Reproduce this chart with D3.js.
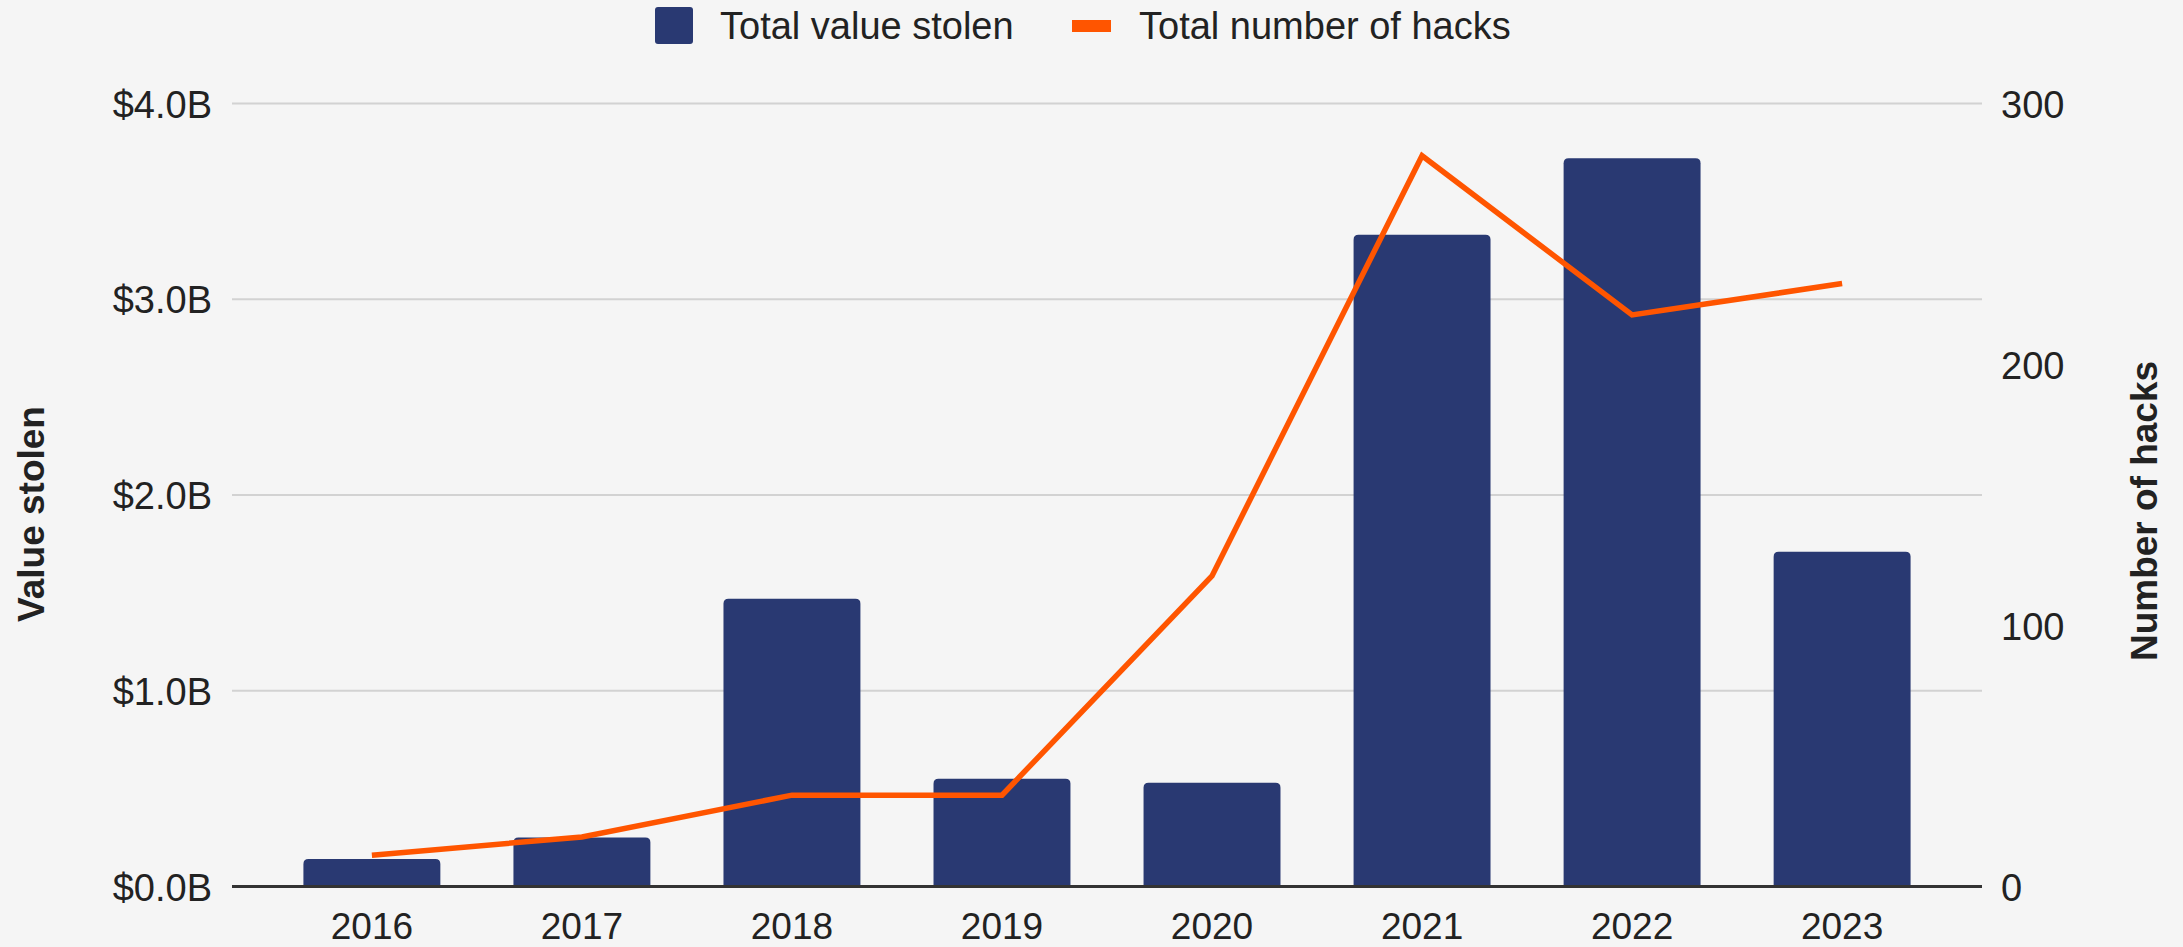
<!DOCTYPE html>
<html>
<head>
<meta charset="utf-8">
<script src="https://cdn.jsdelivr.net/npm/d3@7"></script>
<style>
  html, body { margin: 0; padding: 0; background: #f5f5f5; }
  svg { display: block; }
  text { font-family: "Liberation Sans", Arial, Helvetica, sans-serif; fill: #222; }
</style>
</head>
<body>
<svg id="chart"></svg>
<script>
// Crypto hacks by year: value stolen (billions USD) and number of hacks
const years = ["2016", "2017", "2018", "2019", "2020", "2021", "2022", "2023"];
const valueStolen = [0.14, 0.25, 1.47, 0.55, 0.53, 3.33, 3.72, 1.71];
const hackCounts = [12, 19, 35, 35, 119, 280, 219, 231];
const leftTicks = [0, 1, 2, 3, 4];
const rightTicks = [0, 100, 200, 300];
const seriesNames = ["Total value stolen", "Total number of hacks"];

const W = 2183, H = 947;
const margin = { top: 103.5, right: 201, bottom: 60.5, left: 232 };
const barColor = "#293972";
const lineColor = "#ff5500";

const svg = d3.select("#chart").attr("width", W).attr("height", H);
svg.append("rect").attr("width", W).attr("height", H).attr("fill", "#f5f5f5");

const x = d3.scaleBand()
  .domain(years)
  .range([margin.left, W - margin.right])
  .paddingInner(0.348)
  .paddingOuter(0.34);

const yLeft = d3.scaleLinear().domain([0, 4]).range([H - margin.bottom, margin.top]);
const yRight = d3.scaleLinear().domain([0, 300]).range([H - margin.bottom, margin.top]);

// Gridlines
svg.append("g")
  .selectAll("line")
  .data(leftTicks.filter(d => d !== 0))
  .join("line")
  .attr("x1", margin.left).attr("x2", W - margin.right)
  .attr("y1", d => yLeft(d)).attr("y2", d => yLeft(d))
  .attr("stroke", "#d2d2d2").attr("stroke-width", 2);

// Left axis labels
const leftAxis = d3.axisLeft(yLeft)
  .tickValues(leftTicks)
  .tickFormat(d => "$" + d.toFixed(1) + "B")
  .tickSize(0)
  .tickPadding(20);
const gl = svg.append("g").attr("transform", `translate(${margin.left},0)`).call(leftAxis);
gl.select(".domain").remove();
gl.selectAll("text").style("font-size", "38px").attr("fill", "#222").attr("dy", "0.36em");

// Right axis labels
const rightAxis = d3.axisRight(yRight)
  .tickValues(rightTicks)
  .tickFormat(d3.format("d"))
  .tickSize(0)
  .tickPadding(19);
const gr = svg.append("g").attr("transform", `translate(${W - margin.right},0)`).call(rightAxis);
gr.select(".domain").remove();
gr.selectAll("text").style("font-size", "38px").attr("fill", "#222").attr("dy", "0.36em");

// Bars with rounded top corners
const r = 5;
function barPath(d, i) {
  const x0 = x(years[i]), w = x.bandwidth();
  const yTop = yLeft(d), yBase = yLeft(0);
  const rr = Math.min(r, (yBase - yTop) / 2);
  return `M${x0},${yBase}V${yTop + rr}Q${x0},${yTop} ${x0 + rr},${yTop}` +
         `H${x0 + w - rr}Q${x0 + w},${yTop} ${x0 + w},${yTop + rr}V${yBase}Z`;
}
svg.append("g")
  .selectAll("path")
  .data(valueStolen)
  .join("path")
  .attr("d", (d, i) => barPath(d, i))
  .attr("fill", barColor);

// Baseline
svg.append("line")
  .attr("x1", margin.left).attr("x2", W - margin.right)
  .attr("y1", yLeft(0)).attr("y2", yLeft(0))
  .attr("stroke", "#333").attr("stroke-width", 3);

// X axis labels
const xAxis = d3.axisBottom(x).tickSize(0).tickPadding(26);
const gx = svg.append("g").attr("transform", `translate(0,${yLeft(0)})`).call(xAxis);
gx.select(".domain").remove();
gx.selectAll("text").style("font-size", "37px").attr("fill", "#222");

// Hack count line
const line = d3.line()
  .x((d, i) => x(years[i]) + x.bandwidth() / 2)
  .y(d => yRight(d));
svg.append("path")
  .datum(hackCounts)
  .attr("d", line)
  .attr("fill", "none")
  .attr("stroke", lineColor)
  .attr("stroke-width", 5.5)
  .attr("stroke-linejoin", "miter");

// Axis titles
svg.append("text")
  .attr("transform", `translate(44,514) rotate(-90)`)
  .attr("text-anchor", "middle")
  .style("font-size", "37px").style("font-weight", "bold")
  .text("Value stolen");
svg.append("text")
  .attr("transform", `translate(2157,511) rotate(-90)`)
  .attr("text-anchor", "middle")
  .style("font-size", "37px").style("font-weight", "bold")
  .text("Number of hacks");

// Legend
const legend = svg.append("g");
legend.append("rect")
  .attr("x", 655).attr("y", 7).attr("width", 38).attr("height", 37)
  .attr("rx", 3).attr("fill", barColor);
legend.append("text")
  .attr("x", 720).attr("y", 39)
  .style("font-size", "38px")
  .text(seriesNames[0]);
legend.append("rect")
  .attr("x", 1072).attr("y", 20).attr("width", 39).attr("height", 12)
  .attr("fill", lineColor);
legend.append("text")
  .attr("x", 1139).attr("y", 39)
  .style("font-size", "38px")
  .text(seriesNames[1]);
</script>
</body>
</html>
